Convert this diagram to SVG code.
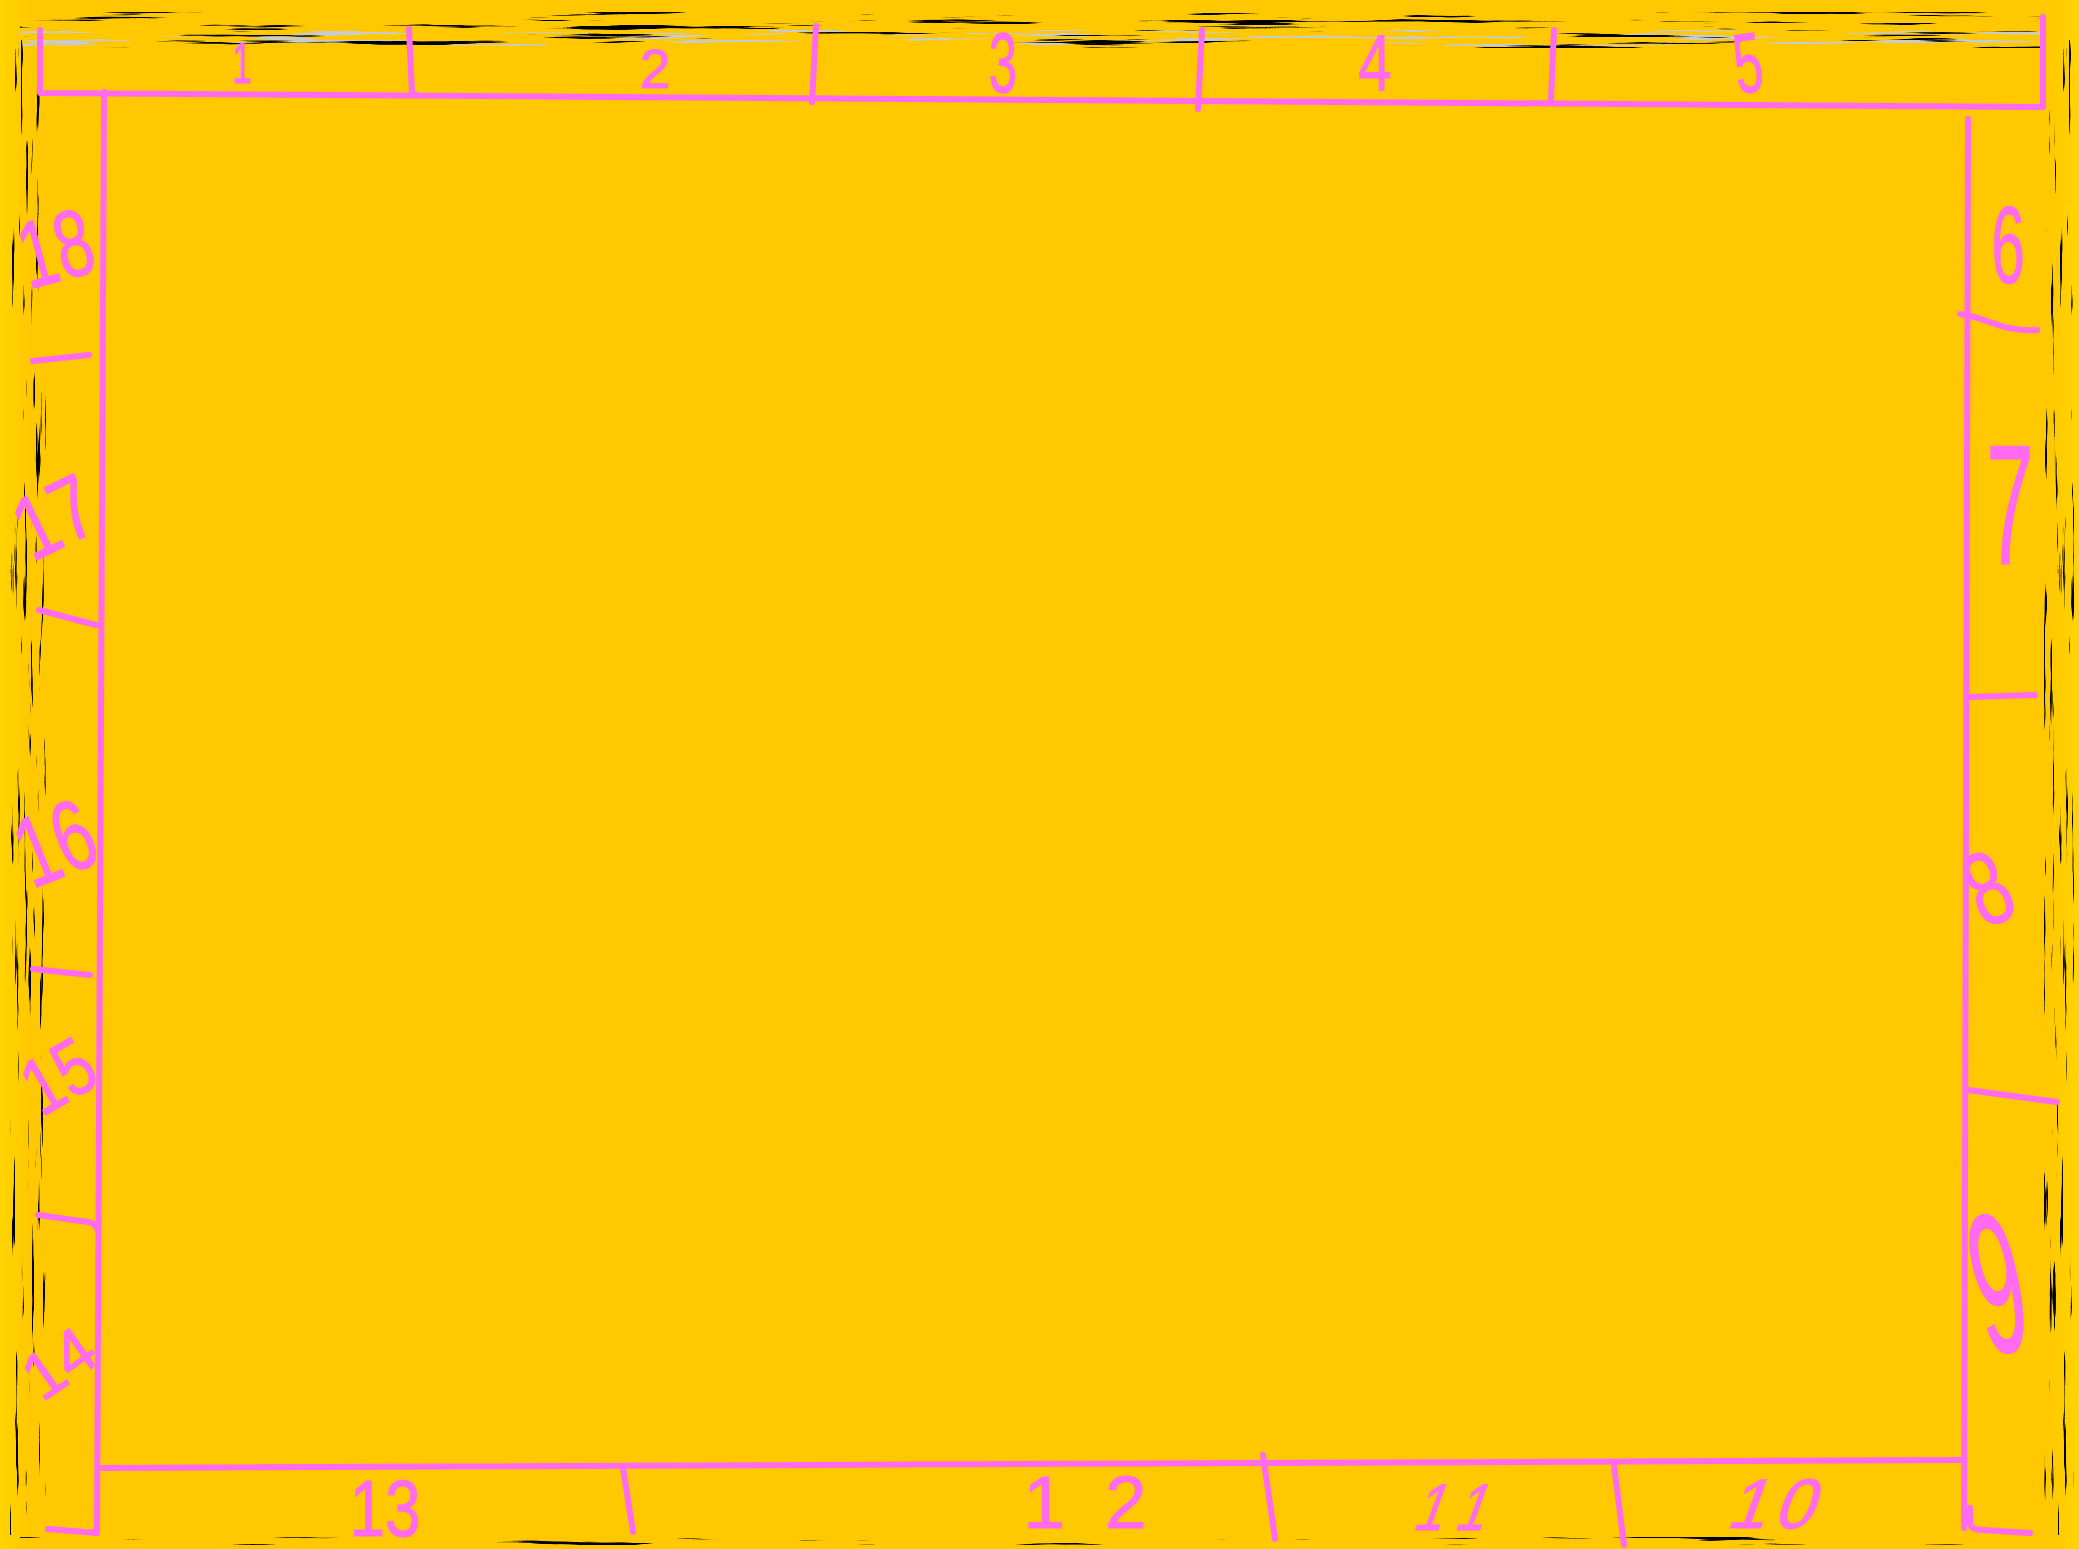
<svg xmlns="http://www.w3.org/2000/svg" width="2079" height="1549" viewBox="0 0 2079 1549">
<style>
.ln{fill:none;stroke:#FF6AF0;stroke-width:6;stroke-linecap:round;stroke-linejoin:round}
.num{fill:#FF6AF0;font-family:"Liberation Sans","DejaVu Sans",sans-serif;stroke:#FF6AF0;stroke-width:1}
</style>
<defs>
<filter id="grH" x="0" y="0" width="100%" height="100%">
<feTurbulence type="fractalNoise" baseFrequency="0.006 0.2" numOctaves="4" seed="3" result="n"/>
<feColorMatrix in="n" type="matrix" values="0 0 0 0 0  0 0 0 0 0  0 0 0 0 0  -14 0 0 0 5.3" result="a"/>
<feComposite in="SourceGraphic" in2="a" operator="in"/>
</filter>
<filter id="grG" x="0" y="0" width="100%" height="100%">
<feTurbulence type="fractalNoise" baseFrequency="0.008 0.25" numOctaves="4" seed="11" result="n"/>
<feColorMatrix in="n" type="matrix" values="0 0 0 0 0  0 0 0 0 0  0 0 0 0 0  -12 0 0 0 4.9" result="a"/>
<feComposite in="SourceGraphic" in2="a" operator="in"/>
</filter>
<filter id="grV" x="0" y="0" width="100%" height="100%">
<feTurbulence type="fractalNoise" baseFrequency="0.25 0.008" numOctaves="4" seed="7" result="n"/>
<feColorMatrix in="n" type="matrix" values="0 0 0 0 0  0 0 0 0 0  0 0 0 0 0  -14 0 0 0 5.0" result="a"/>
<feComposite in="SourceGraphic" in2="a" operator="in"/>
</filter>
<linearGradient id="edgeL" x1="0" x2="1" y1="0" y2="0"><stop offset="0" stop-color="#FFD400"/><stop offset="1" stop-color="#FFC800"/></linearGradient>
<linearGradient id="edgeR" x1="1" x2="0" y1="0" y2="0"><stop offset="0" stop-color="#FFD400"/><stop offset="1" stop-color="#FFC800"/></linearGradient>
</defs>
<rect width="2079" height="1549" fill="#FFC800"/>
<g id="background-texture">
<rect x="0" y="0" width="30" height="1549" fill="url(#edgeL)"/>
<rect x="2049" y="0" width="30" height="1549" fill="url(#edgeR)"/>
<rect x="20" y="30" width="2025" height="16" fill="#C8CCD0" filter="url(#grG)"/>
<rect x="20" y="12" width="2025" height="36" fill="#000" filter="url(#grH)"/>
<rect x="10" y="40" width="36" height="1495" fill="#000" filter="url(#grV)"/>
<rect x="2044" y="40" width="30" height="1495" fill="#000" filter="url(#grV)"/>
<rect x="20" y="1537" width="2040" height="8" fill="#000" filter="url(#grH)"/>
</g>
<g id="connectors">
<path class="ln" d="M40,30 L40,93 L2043,107 L2043,17"/>
<path class="ln" d="M409,29 L412,93 L416,95"/>
<path class="ln" d="M816,26 L812,102"/>
<path class="ln" d="M1202,30 L1198,109"/>
<path class="ln" d="M1554,30 L1551,100"/>
<path class="ln" d="M104,92 L97,1533 L48,1529"/>
<path class="ln" d="M33,361 L89,355"/>
<path class="ln" d="M39,610 L96,625"/>
<path class="ln" d="M33,969 L90,975"/>
<path class="ln" d="M38,1215 L88,1222 Q95,1223 97,1229"/>
<path class="ln" d="M1968,119 L1964,1528"/>
<path class="ln" d="M1960,314 C1990,318 2000,332 2037,330"/>
<path class="ln" d="M1970,697 L2035,695"/>
<path class="ln" d="M1968,1090 L2057,1102"/>
<path class="ln" d="M1970,1508 L1970,1524 Q1972,1530 1982,1530 L2030,1533"/>
<path class="ln" d="M103,1468 L1962,1460"/>
<path class="ln" d="M623,1468 L633,1532"/>
<path class="ln" d="M1263,1455 L1275,1539"/>
<path class="ln" d="M1614,1465 L1624,1545"/>
</g>
<g id="labels">
<text id="n1" class="num" font-size="58" text-anchor="middle" transform="translate(242,83) scale(0.6,1)">1</text>
<text id="n2" class="num" font-size="55" text-anchor="middle" transform="translate(655,88)">2</text>
<text id="n3" class="num" font-size="85" text-anchor="middle" transform="translate(1003,92) scale(0.6,1)">3</text>
<text id="n4" class="num" font-size="80" text-anchor="middle" transform="translate(1375,90) scale(0.75,1)">4</text>
<text id="n5" class="num" font-size="85" text-anchor="middle" transform="translate(1752,92) rotate(-8) scale(0.6,1)">5</text>
<text id="n6" class="num" font-size="110" text-anchor="middle" transform="translate(2008,283) scale(0.55,1)">6</text>
<text id="n7" class="num" font-size="170" text-anchor="middle" transform="translate(2010,564) scale(0.5,1)">7</text>
<text id="n8" class="num" font-size="105" text-anchor="middle" transform="translate(2003,921) rotate(-25) scale(0.7,1)">8</text>
<text id="n9" class="num" font-size="200" text-anchor="middle" transform="translate(2012,1351) rotate(-12) scale(0.45,1)">9</text>
<text id="n10" class="num" font-size="70" text-anchor="middle" letter-spacing="8" transform="translate(1772,1528) skewX(-20)">10</text>
<text id="n11" class="num" font-size="66" text-anchor="middle" letter-spacing="20" transform="translate(1455,1530) skewX(-20) scale(0.8,1)">11</text>
<text id="n12" class="num" font-size="75" text-anchor="middle" letter-spacing="40" transform="translate(1105,1528)">12</text>
<text id="n13" class="num" font-size="80" text-anchor="middle" transform="translate(385,1536) scale(0.8,1)">13</text>
<text id="n14" class="num" font-size="66" text-anchor="middle" transform="translate(72,1382) rotate(-35)">14</text>
<text id="n15" class="num" font-size="80" text-anchor="middle" transform="translate(72,1100) rotate(-30) scale(0.8,1)">15</text>
<text id="n16" class="num" font-size="100" text-anchor="middle" transform="translate(68,875) rotate(-22) scale(0.7,1)">16</text>
<text id="n17" class="num" font-size="90" text-anchor="middle" transform="translate(68,545) rotate(-26) scale(0.8,1)">17</text>
<text id="n18" class="num" font-size="95" text-anchor="middle" transform="translate(64,280) rotate(-15) scale(0.7,1)">18</text>
</g>
</svg>
